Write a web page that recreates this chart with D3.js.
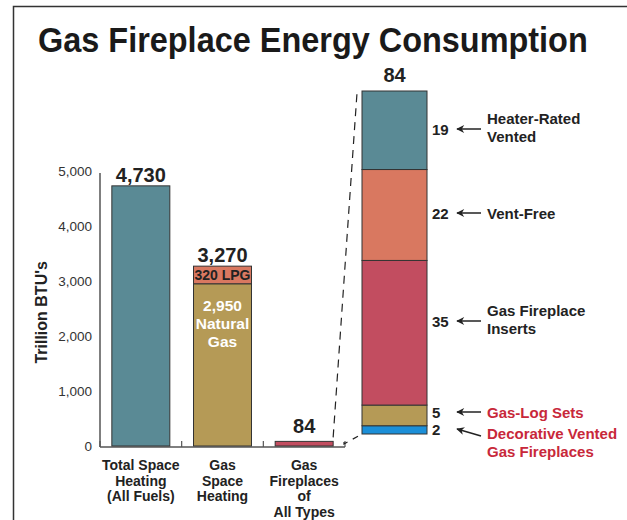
<!DOCTYPE html>
<html>
<head>
<meta charset="utf-8">
<script src="https://cdn.jsdelivr.net/npm/d3@7"></script>
<style>
  body { margin: 0; background: #fff; }
  svg { font-family: 'Liberation Sans', Arial, sans-serif; }
</style>
</head>
<body>
<svg id="graph"></svg>
<script>
// main bars
const categories = [['Total Space', 'Heating', '(All Fuels)'], ['Gas', 'Space', 'Heating'], ['Gas', 'Fireplaces', 'of', 'All Types']]
const totalHeating = 4730
const gasNatural = 2950
const gasLpg = 320
const fireplacesTotal = 84
const yTicks = [0, 1000, 2000, 3000, 4000, 5000]

// breakdown of the fireplace bar (bottom to top)
const detailNames = [['Decorative Vented', 'Gas Fireplaces'], ['Gas-Log Sets'], ['Gas Fireplace', 'Inserts'], ['Vent-Free'], ['Heater-Rated', 'Vented']]
const detailValues = [2, 5, 35, 22, 19]
const detailColors = ['#1b8fd8', '#b59a56', '#c24d60', '#d97860', '#5a8a95']
const detailTextColors = ['#c8283a', '#c8283a', '#222', '#222', '#222']

const width = 627
const height = 520
const svg = d3.select('#graph').attr('width', width).attr('height', height)

svg.append('defs').append('marker')
  .attr('id', 'arrow').attr('viewBox', '0 0 10 10').attr('refX', 9).attr('refY', 5)
  .attr('markerWidth', 9).attr('markerHeight', 8).attr('orient', 'auto')
  .attr('markerUnits', 'userSpaceOnUse')
  .append('path').attr('d', 'M10,5 L0,0 L3,5 L0,10 Z').attr('fill', '#222')

// frame
svg.append('path').attr('d', 'M13.5,520 V6.5 H627').attr('fill', 'none').attr('stroke', '#333').attr('stroke-width', 1.5)

// title, squeezed horizontally to look condensed
const title = svg.append('text')
  .style('font-size', '35px').style('font-weight', 'bold').style('fill', '#1a1a1a')
  .text('Gas Fireplace Energy Consumption')
const titleLen = title.node().getComputedTextLength()
title.attr('transform', `translate(38,52) scale(${550 / titleLen},1)`)

const x = d3.scaleBand().domain(d3.range(categories.length)).range([100, 345])
  .paddingInner(0.29).paddingOuter(0.145)
const y = d3.scaleLinear().domain([0, 5000]).range([446, 171])

const axisY = d3.axisLeft(y).tickValues(yTicks).tickFormat(d3.format(',')).tickSize(0).tickPadding(8)
const gY = svg.append('g').attr('transform', 'translate(100,0)').call(axisY)
gY.select('.domain').attr('stroke', '#555').attr('stroke-width', 1.5).attr('d', `M0,${y(5000) + 2}V${y(0) + 1}`)
gY.selectAll('text').style('font-size', '13.5px').style('fill', '#333').style('font-family', 'Liberation Sans, Arial, sans-serif')

// baseline with separators
const base = y(0) + 1
svg.append('line').attr('x1', 100).attr('x2', 345).attr('y1', base).attr('y2', base).attr('stroke', '#555').attr('stroke-width', 1.5)
svg.selectAll('.sep').data(d3.range(categories.length + 1)).enter().append('line')
  .attr('x1', (d) => 100 + d * x.step()).attr('x2', (d) => 100 + d * x.step())
  .attr('y1', base).attr('y2', base - 6).attr('stroke', '#555').attr('stroke-width', 1.2)

svg.append('text').attr('transform', `translate(47,${y(2430)}) rotate(-90)`)
  .attr('text-anchor', 'middle').style('font-size', '16px').style('font-weight', 'bold').style('fill', '#222')
  .text("Trillion BTU's")

const bars = [
  { i: 0, lo: 0, hi: totalHeating, color: '#5a8a95' },
  { i: 1, lo: 0, hi: gasNatural, color: '#b59a56' },
  { i: 1, lo: gasNatural, hi: gasNatural + gasLpg, color: '#d97860' },
  { i: 2, lo: 0, hi: fireplacesTotal, color: '#c24d60' },
]
svg.selectAll('.bar').data(bars).enter().append('rect')
  .attr('x', (d) => x(d.i)).attr('width', x.bandwidth())
  .attr('y', (d) => y(d.hi)).attr('height', (d) => y(d.lo) - y(d.hi))
  .attr('fill', (d) => d.color).attr('stroke', '#333').attr('stroke-width', 1)

const topLabels = [totalHeating, gasNatural + gasLpg, fireplacesTotal]
svg.selectAll('.top').data(topLabels).enter().append('text')
  .attr('x', (d, i) => x(i) + x.bandwidth() / 2).attr('y', (d) => y(d) - (d < 200 ? 8 : 4))
  .attr('text-anchor', 'middle').style('font-size', '20px').style('font-weight', 'bold').style('fill', '#222')
  .text((d) => d3.format(',')(d))

const cx2 = x(1) + x.bandwidth() / 2
svg.append('text').attr('x', cx2).attr('y', (y(gasNatural) + y(gasNatural + gasLpg)) / 2 + 5)
  .attr('text-anchor', 'middle').style('font-size', '14px').style('font-weight', 'bold').style('fill', '#222')
  .text(gasLpg + ' LPG')
const ngLines = [d3.format(',')(gasNatural), 'Natural', 'Gas']
svg.selectAll('.ng').data(ngLines).enter().append('text')
  .attr('x', cx2).attr('y', (d, i) => 311 + i * 18)
  .attr('text-anchor', 'middle').style('font-size', '15.5px').style('font-weight', 'bold').style('fill', '#fff')
  .text((d) => d)

categories.forEach((lines, i) => {
  svg.selectAll('.cat' + i).data(lines).enter().append('text')
    .attr('x', x(i) + x.bandwidth() / 2).attr('y', (d, k) => 470 + k * 15.5)
    .attr('text-anchor', 'middle').style('font-size', '14px').style('font-weight', 'bold').style('fill', '#222')
    .text((d) => d)
})

// detail bar
const yD = d3.scaleLinear().domain([0, d3.sum(detailValues)]).range([434, 91])
const dx0 = 362
const dx1 = 427
const stacked = detailValues.map((v, i) => ({ v, lo: d3.sum(detailValues.slice(0, i)), hi: d3.sum(detailValues.slice(0, i + 1)), i }))

svg.selectAll('.dseg').data(stacked).enter().append('rect')
  .attr('x', dx0).attr('width', dx1 - dx0)
  .attr('y', (d) => yD(d.hi)).attr('height', (d) => yD(d.lo) - yD(d.hi))
  .attr('fill', (d) => detailColors[d.i]).attr('stroke', '#333').attr('stroke-width', 1)

svg.append('text').attr('x', (dx0 + dx1) / 2).attr('y', yD(d3.sum(detailValues)) - 9)
  .attr('text-anchor', 'middle').style('font-size', '20px').style('font-weight', 'bold').style('fill', '#222')
  .text(fireplacesTotal)

// zoom lines
svg.append('line').attr('x1', x(2) + x.bandwidth()).attr('y1', y(fireplacesTotal) - 4).attr('x2', dx0 - 5).attr('y2', yD(d3.sum(detailValues)) + 2)
  .attr('stroke', '#222').attr('stroke-width', 1.2).attr('stroke-dasharray', '8,6')
svg.append('path').attr('d', `M${345 - 1},${base - 5}V${base - 3}L${dx0},${yD(0)}`)
  .attr('fill', 'none').attr('stroke', '#222').attr('stroke-width', 1.2).attr('stroke-dasharray', '6,6')

// detail labels: number, arrow, name
const labelY = [429, 412, 321, 213, 129]
const arrowFromY = [436, 412, 321, 213, 129]
svg.selectAll('.dnum').data(stacked).enter().append('text')
  .attr('x', 432).attr('y', (d) => labelY[d.i] + 5.5)
  .style('font-size', '15px').style('font-weight', 'bold').style('fill', '#222')
  .text((d) => d.v)
svg.selectAll('.darrow').data(stacked).enter().append('line')
  .attr('x1', 481).attr('y1', (d) => arrowFromY[d.i])
  .attr('x2', 457).attr('y2', (d) => labelY[d.i])
  .attr('stroke', '#222').attr('stroke-width', 1.5).attr('marker-end', 'url(#arrow)')

stacked.forEach((d) => {
  const lines = detailNames[d.i]
  const top = lines.length > 1 ? (d.i === 0 ? arrowFromY[0] + 3 : labelY[d.i] - 5) : labelY[d.i] + 5.5
  svg.selectAll('.dname' + d.i).data(lines).enter().append('text')
    .attr('x', 487).attr('y', (t, k) => top + k * 17.5)
    .style('font-size', '15px').style('font-weight', 'bold').style('fill', detailTextColors[d.i])
    .text((t) => t)
})
</script>
</body>
</html>
